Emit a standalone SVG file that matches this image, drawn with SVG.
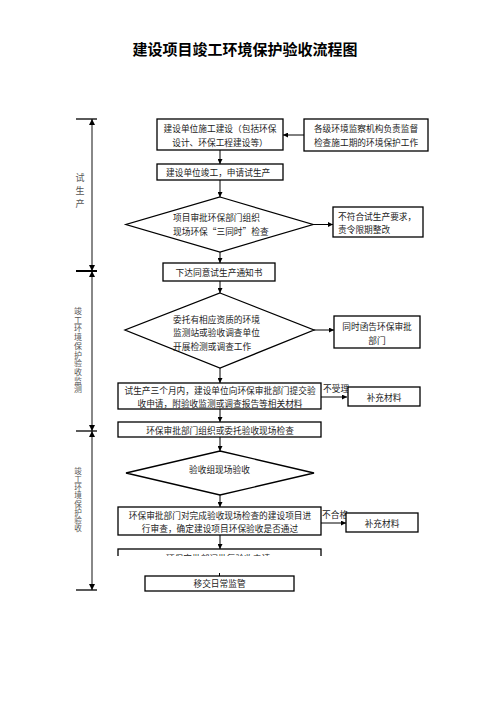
<svg xmlns="http://www.w3.org/2000/svg" width="496" height="702" viewBox="0 0 496 702">
<style>
text{font-family:"Noto Sans CJK SC","Liberation Serif",serif;fill:#222;font-size:8.7px;dominant-baseline:central}
.c{text-anchor:middle}
.box{fill:#fff;stroke:#000;stroke-width:1.3}
.con{stroke:#000;stroke-width:1;fill:none;marker-end:url(#ah)}
.vt{fill:#555;text-anchor:middle;writing-mode:vertical-rl}
.tick{stroke:#000;stroke-width:1.3}
</style>
<defs>
<marker id="ah" viewBox="0 0 10 10" refX="10" refY="5" markerWidth="5" markerHeight="5" orient="auto" markerUnits="userSpaceOnUse"><path d="M0,0L10,5L0,10z" fill="#000"/></marker>
<marker id="bh" viewBox="0 0 10 10" refX="10" refY="5" markerWidth="6" markerHeight="6" orient="auto-start-reverse" markerUnits="userSpaceOnUse"><path d="M0,0L10,5L0,10z" fill="#000"/></marker>
<clipPath id="clip5"><rect x="100" y="540" width="240" height="16"/></clipPath>
</defs>
<rect width="496" height="702" fill="#fff"/>
<text x="245" y="48" class="c" style="font-size:15px;font-weight:bold;fill:#000">建设项目竣工环境保护验收流程图</text>

<g id="bracket">
<line x1="92" y1="119" x2="92" y2="271" stroke="#888" stroke-width="2" marker-start="url(#bh)" marker-end="url(#bh)"/>
<line x1="92" y1="271" x2="92" y2="431" stroke="#888" stroke-width="2" marker-start="url(#bh)" marker-end="url(#bh)"/>
<line x1="92" y1="431" x2="92" y2="590" stroke="#888" stroke-width="2" marker-start="url(#bh)" marker-end="url(#bh)"/>
<line class="tick" x1="76" y1="119" x2="97" y2="119"/>
<line class="tick" x1="76" y1="271" x2="97" y2="271" style="stroke-width:2"/>
<line class="tick" x1="76" y1="431" x2="97" y2="431"/>
<line class="tick" x1="76" y1="590" x2="97" y2="590"/>
<text class="vt" x="80" y="193" style="font-size:9px;letter-spacing:4px">试生产</text>
<text class="vt" x="78" y="350.5" style="font-size:8px;letter-spacing:0.7px">竣工环境保护验收监测</text>
<text class="vt" x="78" y="500" style="font-size:7.6px;letter-spacing:0.6px">竣工环境保护验收</text>
</g>

<g id="connectors">
<line class="con" x1="304" y1="135" x2="283" y2="135"/>
<line class="con" x1="220" y1="150" x2="220" y2="164"/>
<line class="con" x1="220" y1="180" x2="220" y2="197"/>
<line class="con" x1="313" y1="224.5" x2="333" y2="224.5"/>
<line class="con" x1="220" y1="252" x2="220" y2="263"/>
<line class="con" x1="220" y1="281" x2="220" y2="293"/>
<line class="con" x1="314" y1="330" x2="334" y2="330"/>
<line class="con" x1="220" y1="368" x2="220" y2="383"/>
<line class="con" x1="321" y1="397" x2="347" y2="397"/>
<line class="con" x1="220" y1="409" x2="220" y2="422"/>
<line class="con" x1="220" y1="437" x2="220" y2="451"/>
<line class="con" x1="220" y1="495" x2="220" y2="507"/>
<line class="con" x1="321" y1="523" x2="346" y2="523"/>
<line class="con" x1="220" y1="535" x2="220" y2="549"/>
<line x1="219.5" y1="573" x2="219.5" y2="576" stroke="#000" stroke-width="1"/>
<text x="323" y="388">不受理</text>
<text x="322" y="514">不合格</text>
</g>

<g id="n1"><rect class="box" x="157" y="119" width="126" height="31"/>
<text class="c" x="220" y="128">建设单位施工建设（包括环保</text><text class="c" x="220" y="142">设计、环保工程建设等）</text></g>
<g id="n2"><rect class="box" x="304" y="119" width="124" height="32"/>
<text class="c" x="366" y="128">各级环境监察机构负责监督</text><text class="c" x="366" y="142">检查施工期的环境保护工作</text></g>
<g id="n3"><rect class="box" x="157" y="164" width="126" height="16"/>
<text x="166" y="172">建设单位竣工，申请试生产</text></g>
<g id="n4"><polygon class="box" points="220,197 313,224.5 220,252 126,224.5"/>
<text x="173" y="217">项目审批环保部门组织</text><text x="173" y="231">现场环保“三同时”检查</text></g>
<g id="n5"><rect class="box" x="333" y="207" width="90" height="30"/>
<text x="338" y="216">不符合试生产要求，</text><text x="338" y="229">责令限期整改</text></g>
<g id="n6"><rect class="box" x="163" y="263" width="112" height="18"/>
<text class="c" x="219" y="272">下达同意试生产通知书</text></g>
<g id="n7"><polygon class="box" points="220,293 314,330 220,368 125,330"/>
<text x="173" y="319">委托有相应资质的环境</text><text x="173" y="332.5">监测站或验收调查单位</text><text x="173" y="346">开展检测或调查工作</text></g>
<g id="n8"><rect class="box" x="334" y="316" width="86" height="32"/>
<text class="c" x="377" y="326">同时函告环保审批</text><text class="c" x="377" y="340">部门</text></g>
<g id="n9"><rect class="box" x="118" y="383" width="203" height="26"/>
<text class="c" x="220" y="390">试生产三个月内，建设单位向环保审批部门提交验</text><text class="c" x="220" y="403">收申请，附验收监测或调查报告等相关材料</text></g>
<g id="n10"><rect class="box" x="348" y="387" width="72" height="19"/>
<text class="c" x="384" y="397">补充材料</text></g>
<g id="n11"><rect class="box" x="118" y="422" width="203" height="15"/>
<text class="c" x="220" y="430">环保审批部门组织或委托验收现场检查</text></g>
<g id="n12"><polygon class="box" points="220,451 314,473 220,495 126,473"/>
<text x="189" y="469">验收组现场验收</text></g>
<g id="n13"><rect class="box" x="118" y="507" width="203" height="28"/>
<text class="c" x="220" y="515">环保审批部门对完成验收现场检查的建设项目进</text><text class="c" x="220" y="528">行审查，确定建设项目环保验收是否通过</text></g>
<g id="n14"><rect class="box" x="346" y="513" width="72" height="19"/>
<text class="c" x="382" y="523">补充材料</text></g>
<g id="n15" clip-path="url(#clip5)"><rect class="box" x="118" y="549" width="203" height="26"/>
<text class="c" x="218" y="558">环保审批部门批复验收申请</text></g>
<g id="n16"><rect class="box" x="145" y="576" width="149" height="15"/>
<text class="c" x="219.5" y="583.5">移交日常监管</text></g>
</svg>
